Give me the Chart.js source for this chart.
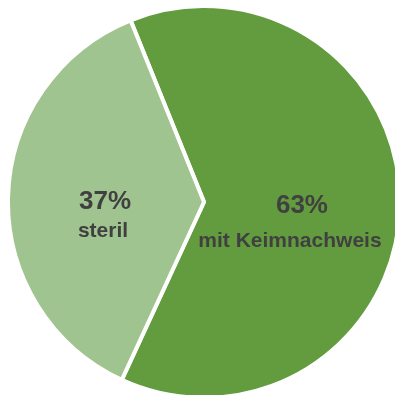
<!DOCTYPE html>
<html>
<head>
<meta charset="utf-8">
<script src="https://cdn.jsdelivr.net/npm/chart.js@4/dist/chart.umd.min.js"></script>
<style>
  html,body{margin:0;padding:0;background:#fff;overflow:hidden;width:395px;height:395px;}
  #wrap{position:absolute;left:6px;top:4px;width:396px;height:396px;}
</style>
</head>
<body>
<div id="wrap"><canvas id="pie" width="396" height="396"></canvas></div>
<script>
  const labels = ['mit Keimnachweis', 'steril'];
  const values = [63, 37];
  const colors = ['#629c3f', '#a0c48f'];

  // per-slice text placement relative to the arc centre point
  const textLayout = [
    { dx1: 0, dy1: 9, dx2: -12, dy2: 43 },
    { dx1: -1, dy1: 9, dx2: -3, dy2: 37 }
  ];

  const sliceLabels = {
    id: 'sliceLabels',
    afterDatasetsDraw(chart){
      const ctx = chart.ctx;
      const meta = chart.getDatasetMeta(0);
      const total = values.reduce((a,b)=>a+b,0);
      ctx.save();
      ctx.fillStyle = '#404040';
      ctx.textAlign = 'center';
      ctx.textBaseline = 'alphabetic';
      meta.data.forEach((arc,i)=>{
        const p = arc.tooltipPosition();
        const t = textLayout[i];
        const pct = Math.round(values[i]/total*100)+'%';
        ctx.font = 'bold 26px "Liberation Sans", Arial, sans-serif';
        ctx.fillText(pct, p.x+t.dx1, p.y+t.dy1);
        ctx.font = 'bold 21px "Liberation Sans", Arial, sans-serif';
        ctx.fillText(labels[i], p.x+t.dx2, p.y+t.dy2);
      });
      ctx.restore();
    }
  };

  new Chart(document.getElementById('pie'), {
    type: 'pie',
    data: {
      labels: labels,
      datasets: [{ data: values, backgroundColor: colors, borderColor: '#ffffff', borderWidth: 4 }]
    },
    options: {
      responsive: false,
      animation: false,
      rotation: -22,
      layout: { padding: 0 },
      plugins: { legend: { display: false }, tooltip: { enabled: false } }
    },
    plugins: [sliceLabels]
  });
</script>
</body>
</html>
